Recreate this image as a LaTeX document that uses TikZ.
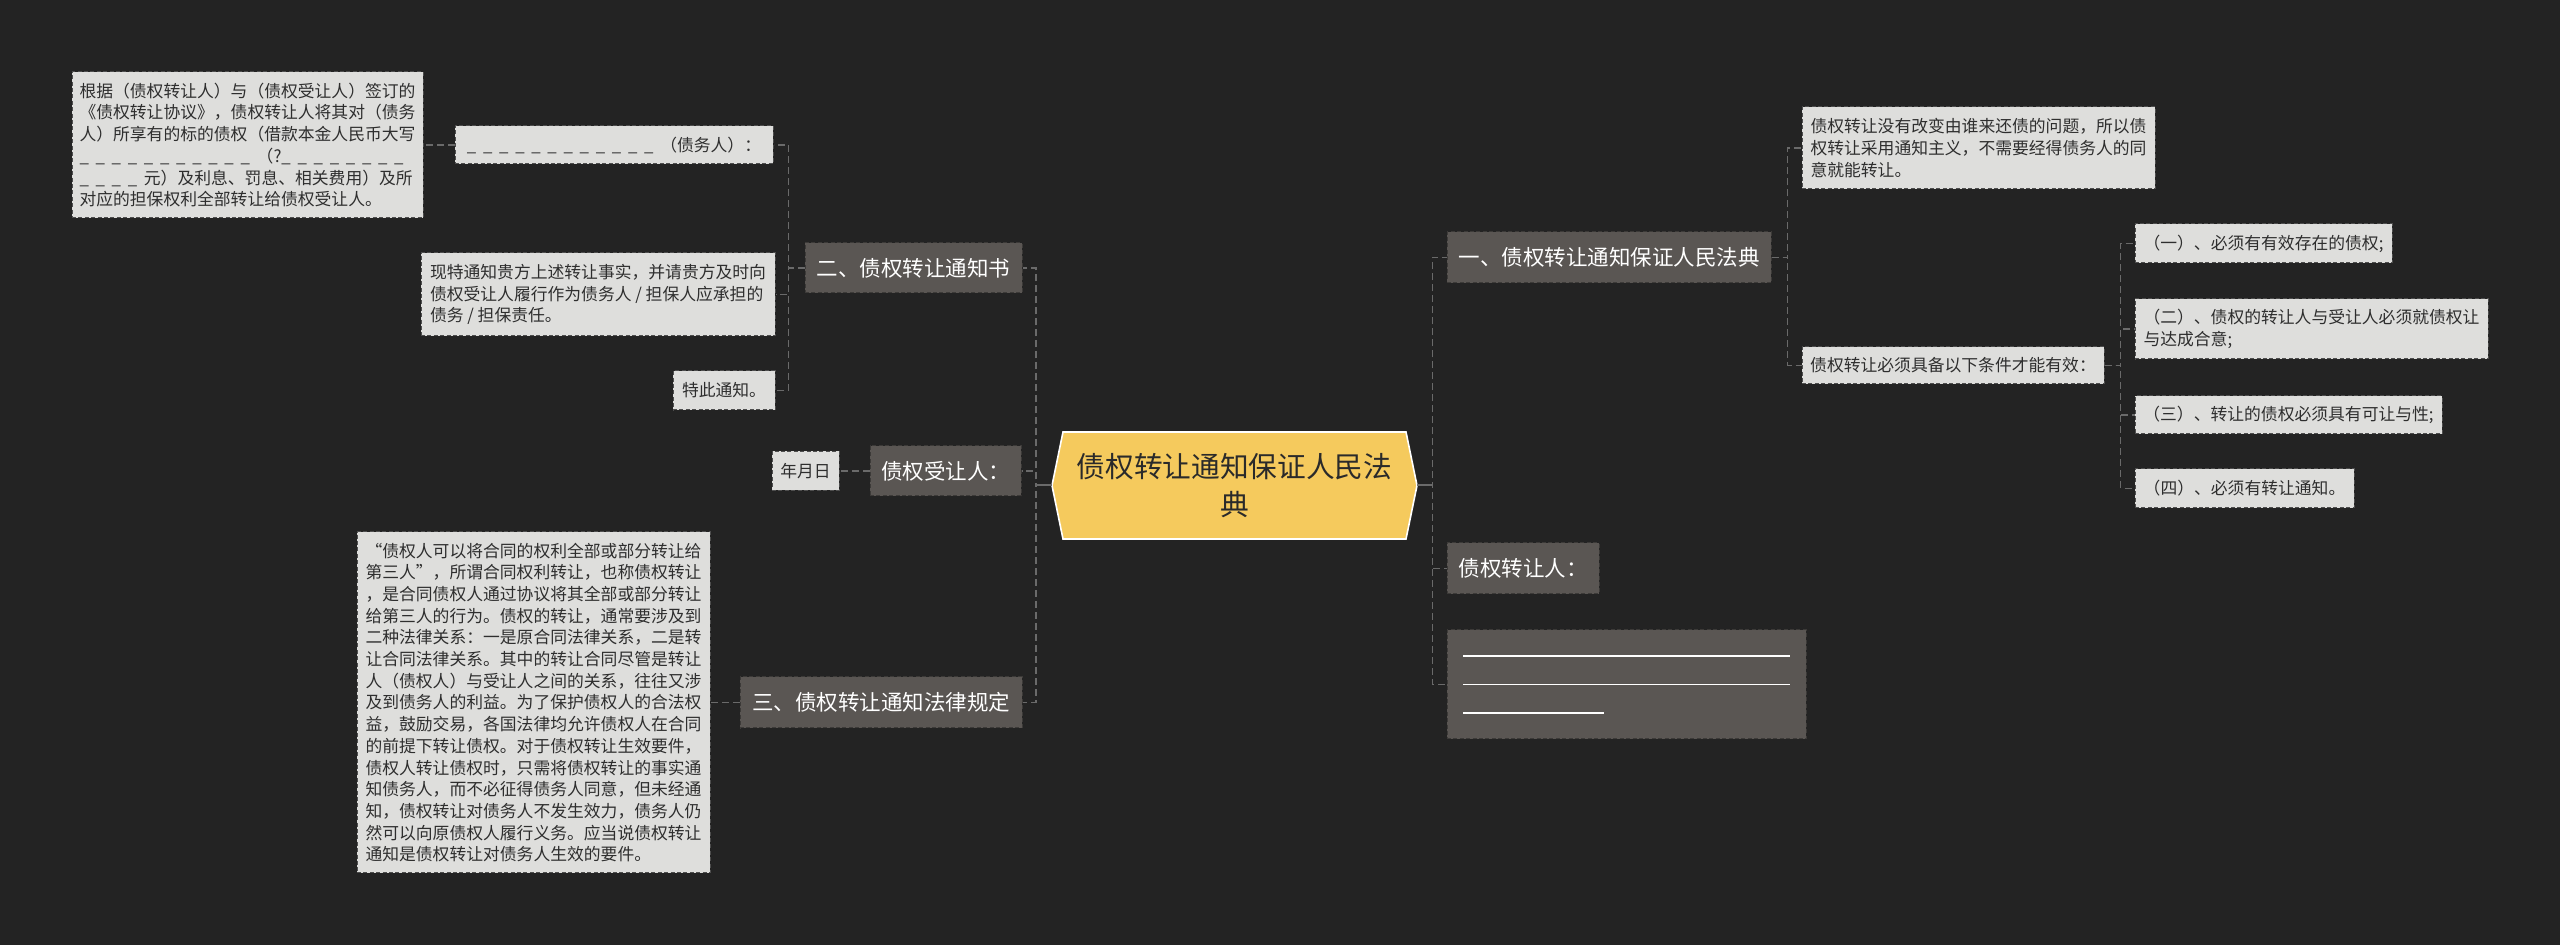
\documentclass[tikz,border=0pt]{standalone}
\usepackage{fontspec}
\setmainfont{Noto Sans CJK SC}
\definecolor{bgcol}{HTML}{232323}
\definecolor{darkbox}{HTML}{5A5653}
\definecolor{lightbox}{HTML}{DEDEDC}
\definecolor{centerfill}{HTML}{F5CA5D}
\definecolor{conncol}{HTML}{6A6A6A}
\definecolor{lighttext}{HTML}{2E2E2E}
\definecolor{centertext}{HTML}{2A2A2A}
\definecolor{darkborder}{HTML}{3C3A38}
\definecolor{lightborder}{HTML}{4E4E4E}
\newcommand\blk{\_\hspace{0.4em}}
\newcommand\blks[1]{\foreach \i in {1,...,#1}{\blk}}
\tikzset{
  darknode/.style={fill=darkbox, draw=darkborder, line width=0.5pt, dash pattern=on 2pt off 1.2pt,
    text=white, font=\fontsize{10.75pt}{13pt}\selectfont, inner sep=0pt, align=center},
  lightnode/.style={fill=lightbox, draw=lightborder, line width=0.5pt, dash pattern=on 2pt off 1.2pt,
    text=lighttext, font=\fontsize{8.4pt}{10.85pt}\selectfont, inner sep=0pt, align=left},
  centernode/.style={text=centertext, font=\fontsize{14.35pt}{19pt}\selectfont, inner sep=0pt, align=center},
  conn/.style={draw=conncol, line width=0.9pt, dash pattern=on 3.5pt off 2pt},
  stub/.style={draw=conncol, line width=1pt},
}
\begin{document}
\begin{tikzpicture}[x=0.5pt, y=-0.5pt]
\fill[bgcol] (0,0) rectangle (2560,945);
\useasboundingbox (0,0) rectangle (2560,945);

% central hexagon
\filldraw[fill=centerfill, draw=white, line width=0.8pt]
  (1052,485.5) -- (1063,432) -- (1406,432) -- (1417,485.5) -- (1406,539) -- (1063,539) -- cycle;
\node[centernode, minimum width=182.5pt, minimum height=53.5pt] (C0) at (1234.5,485.5)
  {债权转让通知保证人民法\\典};

% left side
\node[darknode, minimum width=108.5pt, minimum height=25pt] (n2) at (913.5,268) {二、债权转让通知书};
\node[lightnode, minimum width=159pt, minimum height=19pt] (B) at (614,145) {\blks{12}（债务人）：};
\node[lightnode, minimum width=175.5pt, minimum height=73pt] (A) at (247.5,145)
  {根据（债权转让人）与（债权受让人）签订的\\
   《债权转让协议》，债权转让人将其对（债务\\
   人）所享有的标的债权（借款本金人民币大写\\
   \blks{11}（?\blks{8}\\
   \blks{4}元）及利息、罚息、相关费用）及所\\
   对应的担保权利全部转让给债权受让人。};
\node[lightnode, minimum width=177pt, minimum height=41.5pt] (Cc) at (598,294.5)
  {现特通知贵方上述转让事实，并请贵方及时向\\
   债权受让人履行作为债务人 / 担保人应承担的\\
   债务 / 担保责任。};
\node[lightnode, minimum width=51pt, minimum height=19.5pt] (D) at (724,390.5) {特此通知。};

\node[darknode, minimum width=75.5pt, minimum height=25pt] (nS) at (945.5,471) {债权受让人：};
\node[lightnode, minimum width=33.5pt, minimum height=19.5pt] (nY) at (805.5,471) {年月日};

\node[darknode, minimum width=141pt, minimum height=25.5pt] (n3) at (881,702.5) {三、债权转让通知法律规定};
\node[lightnode, minimum width=176.5pt, minimum height=170.5pt] (nL) at (533.5,702.5)
  {“债权人可以将合同的权利全部或部分转让给\\
   第三人”，所谓合同权利转让，也称债权转让\\
   ，是合同债权人通过协议将其全部或部分转让\\
   给第三人的行为。债权的转让，通常要涉及到\\
   二种法律关系：一是原合同法律关系，二是转\\
   让合同法律关系。其中的转让合同尽管是转让\\
   人（债权人）与受让人之间的关系，往往又涉\\
   及到债务人的利益。为了保护债权人的合法权\\
   益，鼓励交易，各国法律均允许债权人在合同\\
   的前提下转让债权。对于债权转让生效要件，\\
   债权人转让债权时，只需将债权转让的事实通\\
   知债务人，而不必征得债务人同意，但未经通\\
   知，债权转让对债务人不发生效力，债务人仍\\
   然可以向原债权人履行义务。应当说债权转让\\
   通知是债权转让对债务人生效的要件。};

% right side
\node[darknode, minimum width=162pt, minimum height=25.5pt] (n1) at (1609,257.5) {一、债权转让通知保证人民法典};
\node[lightnode, minimum width=176.5pt, minimum height=41pt] (E) at (1978.5,148)
  {债权转让没有改变由谁来还债的问题，所以债\\
   权转让采用通知主义，不需要经得债务人的同\\
   意就能转让。};
\node[lightnode, minimum width=151pt, minimum height=18.5pt] (F) at (1953,365.5) {债权转让必须具备以下条件才能有效：};
\node[lightnode, minimum width=128.5pt, minimum height=19.5pt] (c1) at (2263.5,243.5) {（一）、必须有有效存在的债权;};
\node[lightnode, minimum width=176.5pt, minimum height=30pt] (c2) at (2311.5,329)
  {（二）、债权的转让人与受让人必须就债权让\\与达成合意;};
\node[lightnode, minimum width=153.5pt, minimum height=19pt] (c3) at (2288.5,415) {（三）、转让的债权必须具有可让与性;};
\node[lightnode, minimum width=109.5pt, minimum height=19.5pt] (c4) at (2244.5,488.5) {（四）、必须有转让通知。};
\node[darknode, minimum width=76pt, minimum height=25.5pt] (nT) at (1523,568.5) {债权转让人：};
\node[darknode, minimum width=179.5pt, minimum height=54.5pt, align=left, font=\fontsize{10.75pt}{14.25pt}\selectfont] (nB) at (1626.5,684.5)
  {\rule{163.5pt}{0.85pt}\\\rule{163.5pt}{0.85pt}\\\rule{70.5pt}{0.85pt}\hspace{93pt}};

% connectors: centre to left
\draw[conn] (C0.west) -- ++(-16,0) |- (n2.east);
\draw[conn] (C0.west) -- ++(-16,0) |- (nS.east);
\draw[conn] (C0.west) -- ++(-16,0) |- (n3.east);
\draw[stub] (C0.west) -- ++(-16,0);
% left subtrees
\draw[conn] (n2.west) -- ++(-16,0) |- (B.east);
\draw[conn] (n2.west) -- ++(-16,0) |- (Cc.east);
\draw[conn] (n2.west) -- ++(-16,0) |- (D.east);
\draw[conn] (B.west) -- (A.east);
\draw[conn] (nS.west) -- (nY.east);
\draw[conn] (n3.west) -- (nL.east);
% centre to right
\draw[conn] (C0.east) -- ++(15,0) |- (n1.west);
\draw[conn] (C0.east) -- ++(15,0) |- (nT.west);
\draw[conn] (C0.east) -- ++(15,0) |- (nB.west);
\draw[stub] (C0.east) -- ++(15,0);
% right subtrees
\draw[conn] (n1.east) -- ++(16,0) |- (E.west);
\draw[conn] (n1.east) -- ++(16,0) |- (F.west);
\draw[conn] (F.east) -- ++(16,0) |- (c1.west);
\draw[conn] (F.east) -- ++(16,0) |- (c2.west);
\draw[conn] (F.east) -- ++(16,0) |- (c3.west);
\draw[conn] (F.east) -- ++(16,0) |- (c4.west);
\end{tikzpicture}
\end{document}
